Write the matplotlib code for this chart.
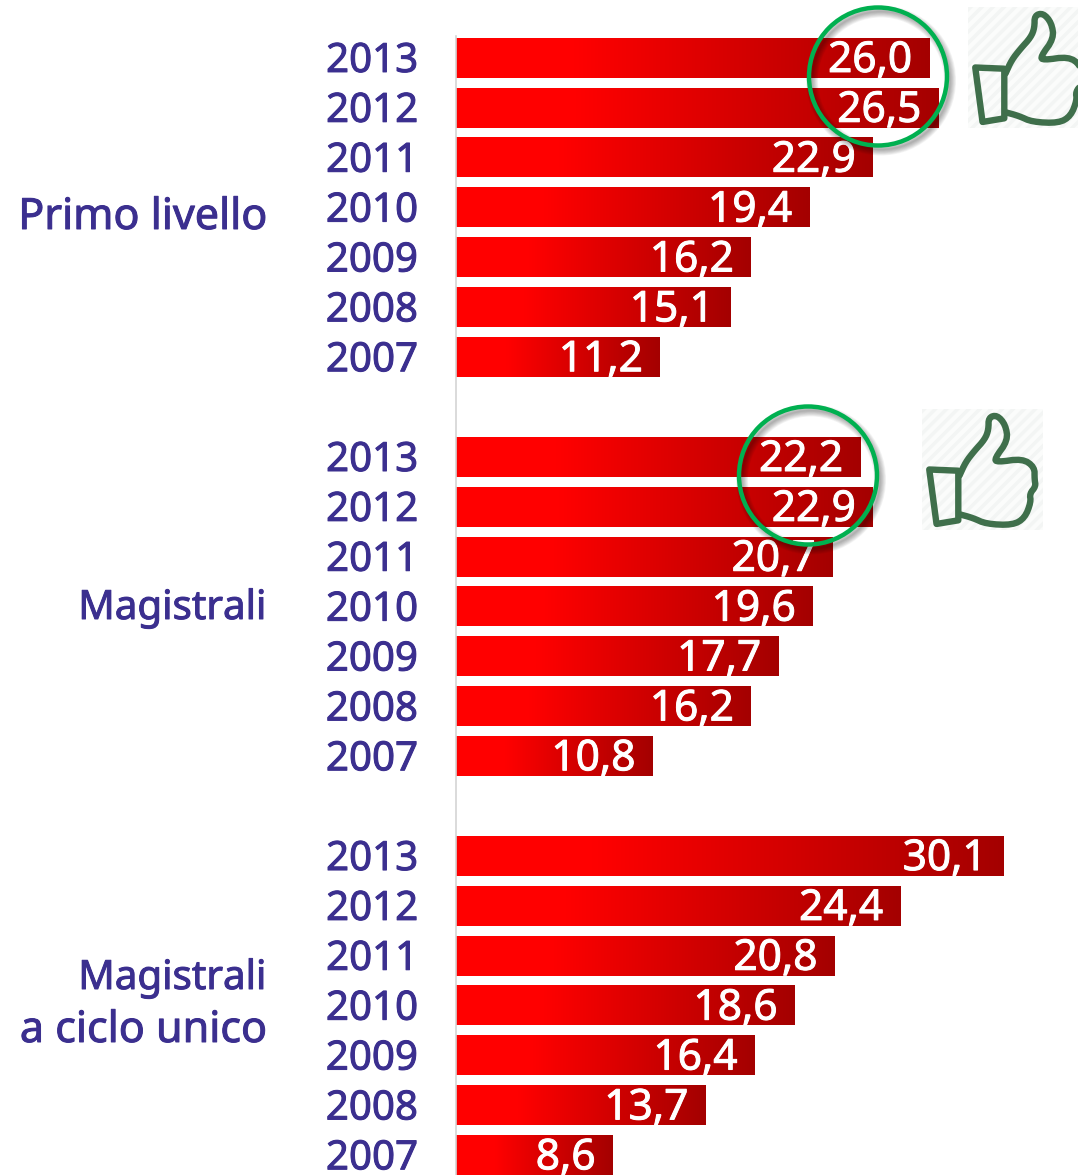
import numpy as np
import matplotlib
matplotlib.use("Agg")
import matplotlib.pyplot as plt
import matplotlib.patheffects as pe
from matplotlib.colors import LinearSegmentedColormap
from matplotlib.patches import Circle, Rectangle, Polygon

plt.rcParams['font.family'] = ['Noto Sans', 'DejaVu Sans']
plt.rcParams['hatch.linewidth'] = 2.5

#### Data
annees = ["2013", "2012", "2011", "2010", "2009", "2008", "2007"]
primo_livello = [26.0, 26.5, 22.9, 19.4, 16.2, 15.1, 11.2]
magistrali = [22.2, 22.9, 20.7, 19.6, 17.7, 16.2, 10.8]
ciclo_unico = [30.1, 24.4, 20.8, 18.6, 16.4, 13.7, 8.6]

#### Style
W, H = 1078, 1175
VIOLET = "#3B2F8F"
VERT = "#00B050"
VERT_ICONE = "#3F6F4B"
degrade = LinearSegmentedColormap.from_list(
    "rouge", [(0, "#FF0000"), (0.25, "#FF0000"), (1, "#A40000")])
degrade_h = np.linspace(0, 1, 256).reshape(1, -1)

# contour du pouce, coordonnees relatives a la boite de l'icone
manche = [(0.06, 0.50), (0.30, 0.51), (0.30, 0.92), (0.12, 0.95)]
main = [(0.31, 0.55), (0.36, 0.44), (0.43, 0.35), (0.52, 0.25), (0.55, 0.17),
        (0.55, 0.07), (0.62, 0.05), (0.69, 0.13), (0.71, 0.26), (0.60, 0.41),
        (0.62, 0.44), (0.83, 0.41), (0.93, 0.48), (0.93, 0.58), (0.94, 0.64),
        (0.89, 0.70), (0.90, 0.77), (0.85, 0.90), (0.75, 0.96), (0.53, 0.95),
        (0.42, 0.90), (0.31, 0.87)]


def lisser(points, tours=2):
    """Arrondit une ligne brisee en coupant les coins"""
    pts = np.array(points)
    for _ in range(tours):
        q = 0.75 * pts[:-1] + 0.25 * pts[1:]
        r = 0.25 * pts[:-1] + 0.75 * pts[1:]
        milieu = np.empty((2 * len(q), 2))
        milieu[0::2] = q
        milieu[1::2] = r
        pts = np.vstack([pts[0], milieu, pts[-1]])
    return pts


def gras(couleur):
    # la police d'origine est un peu plus grasse que Noto Sans
    return [pe.withStroke(linewidth=0.7, foreground=couleur)]


def tracer_groupe(ax, debut, valeurs):
    for i, v in enumerate(valeurs):
        r = debut + i
        ax.imshow(degrade_h, cmap=degrade, aspect='auto', zorder=2,
                  extent=(0, v, r + 0.395, r - 0.395))
        ax.text(v - 0.9, r + 0.28, f"{v:.1f}".replace(".", ","), color="white",
                fontsize=30.5, ha="right", va="baseline", zorder=3,
                path_effects=gras("white"))
        # annee a gauche de la barre
        ax.text(-2.05, r + 0.28, annees[i], color=VIOLET, fontsize=29,
                ha="right", va="baseline", path_effects=gras(VIOLET))


def tracer_cercle(ax, cx, cy):
    # ombre floue sous le cercle
    for k in range(8):
        ax.add_patch(Circle((cx + 3, cy + 4), 69, fill=False, ec="black",
                            lw=1 + k * 1.1, alpha=0.045))
    ax.add_patch(Circle((cx, cy), 69, fill=False, ec=VERT, lw=3.2))


def tracer_pouce(ax, x0, y0, t):
    ax.add_patch(Rectangle((x0, y0), t, t, fc="#FBFCFB", ec="#F3F5F4",
                           hatch="///", lw=0))
    pts = [(x0 + a * t, y0 + b * t) for a, b in manche]
    ax.add_patch(Polygon(pts, closed=True, fill=False, ec=VERT_ICONE,
                         lw=4.6, joinstyle="round"))
    pts = lisser([(x0 + a * t, y0 + b * t) for a, b in main])
    ax.plot(pts[:, 0], pts[:, 1], color=VERT_ICONE, lw=4.6,
            solid_joinstyle="round", solid_capstyle="round")


#### Programme principal
fig = plt.figure(figsize=(W / 100, H / 100), dpi=100)
ax = fig.add_axes([0, 0, 1, 1])

px_x = 18.2  # pixels par unite
px_r = 49.88  # pixels par ligne
debuts = [0, 8, 16]
for debut, valeurs in zip(debuts, (primo_livello, magistrali, ciclo_unico)):
    tracer_groupe(ax, debut, valeurs)

ax.set_xlim(-455.5 / px_x, (W - 455.5) / px_x)
ax.set_ylim((H - 58) / px_r, -58 / px_r)
ax.set_xticks([])
ax.set_yticks([])
for cote in ("top", "right", "bottom"):
    ax.spines[cote].set_visible(False)
ax.spines["left"].set_position(("data", 0))
ax.spines["left"].set_color("#D4D4D4")
ax.spines["left"].set_linewidth(1.2)
ax.spines["left"].set_bounds(-22 / px_r, (H - 58) / px_r)
ax.patch.set_alpha(0)

# titres de groupes et decorations, en pixels de l'image
deco = fig.add_axes([0, 0, 1, 1])
deco.set_xlim(0, W)
deco.set_ylim(H, 0)
deco.axis("off")
titres = [("Primo livello", 267, 229, 31), ("Magistrali", 266, 619, 29),
          ("Magistrali", 266, 989, 29), ("a ciclo unico", 267, 1042, 31)]
for texte, x, y, taille in titres:
    deco.text(x, y, texte, color=VIOLET, fontsize=taille, ha="right", va="baseline",
              path_effects=gras(VIOLET))

tracer_cercle(deco, 878, 76.5)
tracer_cercle(deco, 808, 475.5)
tracer_pouce(deco, 968, 7, 121)
tracer_pouce(deco, 922, 409, 121)
deco.set_xlim(0, W)
deco.set_ylim(H, 0)

plt.savefig("out.png", dpi=100)
